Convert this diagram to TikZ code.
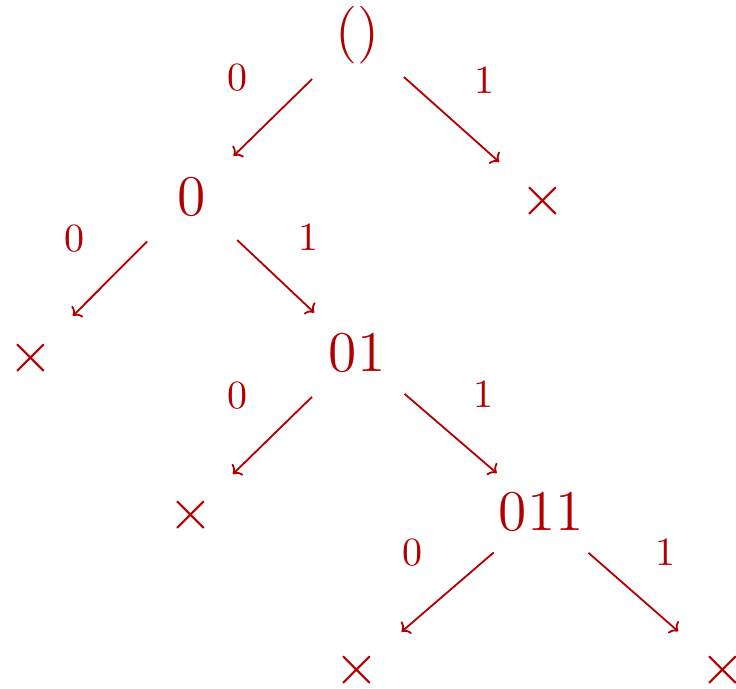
\documentclass[tikz,border=0pt]{standalone}
\usepackage{xcolor}
\usepackage{tikz}
\usetikzlibrary{arrows.meta,positioning}
\colorlet{deepred}{red!70!black}

\begin{document}
\begin{tikzpicture}[
  x=0.25pt, y=-0.25pt,
  every node/.style={text=deepred},
  n/.style={circle,minimum size=31pt,inner sep=0pt,anchor=base,font=\Large},
  s/.style={inner sep=0pt,font=\normalsize},
  arr/.style={draw=deepred,line width=0.45pt,-{To[length=1.8pt,width=4pt]},shorten >=-1pt}]
  \useasboundingbox (0,0) rectangle (736,688);
  \node[n] (r) at (357,49.5) {()};
  \node[n] (a) at (191.5,215.5) {0};
  \node[n] (b) at (543,215.5) {$\times$};
  \node[n] (c) at (31.3,372) {$\times$};
  \node[n] (d) at (357,371.5) {01};
  \node[n] (e) at (190.8,529.5) {$\times$};
  \node[n] (f) at (541.3,530) {011};
  \node[n] (g) at (357,684.5) {$\times$};
  \node[n] (h) at (722.4,684.5) {$\times$};
  \draw[arr] (r) -- node[s,above left=6pt and 6.5pt] {0} (a);
  \draw[arr] (r) -- node[s,above right=6pt and 5.8pt] {1} (b);
  \draw[arr] (a) -- node[s,above left=6pt and 6.5pt] {0} (c);
  \draw[arr] (a) -- node[s,above right=6pt and 5.8pt] {1} (d);
  \draw[arr] (d) -- node[s,above left=6pt and 6.5pt] {0} (e);
  \draw[arr] (d) -- node[s,above right=6pt and 5.8pt] {1} (f);
  \draw[arr] (f) -- node[s,above left=6pt and 6.5pt] {0} (g);
  \draw[arr] (f) -- node[s,above right=6pt and 5.8pt] {1} (h);
\end{tikzpicture}
\end{document}
